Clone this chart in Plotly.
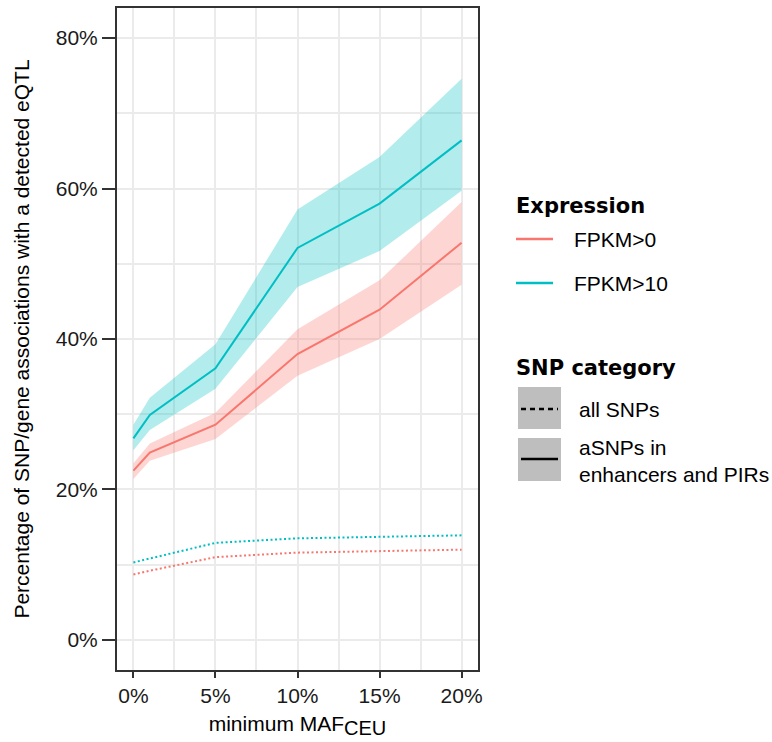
import plotly.graph_objects as go

# ---------------- data ----------------
maf = [0, 1, 5, 10, 15, 20]

fpkm10_asnp = [26.8, 29.9, 36.1, 52.1, 58.0, 66.4]
fpkm10_asnp_lo = [25.2, 27.9, 33.4, 46.9, 51.7, 59.7]
fpkm10_asnp_hi = [28.6, 32.2, 39.3, 57.2, 64.2, 74.6]

fpkm0_asnp = [22.5, 24.9, 28.6, 38.0, 43.9, 52.8]
fpkm0_asnp_lo = [21.4, 23.8, 26.7, 35.1, 40.0, 47.2]
fpkm0_asnp_hi = [23.5, 26.1, 30.2, 41.3, 47.8, 58.2]

fpkm10_all = [10.3, 10.8, 12.9, 13.5, 13.7, 13.9]
fpkm0_all = [8.7, 9.2, 11.0, 11.6, 11.8, 12.0]

x_ticks = [0, 5, 10, 15, 20]
x_ticktext = ["0%", "5%", "10%", "15%", "20%"]
x_minor = [2.5, 7.5, 12.5, 17.5]
y_ticks = [0, 20, 40, 60, 80]
y_ticktext = ["0%", "20%", "40%", "60%", "80%"]
y_minor = [10, 30, 50, 70]

expr_labels = ["FPKM>0", "FPKM>10"]
snp_labels = ["all SNPs", "aSNPs in<br>enhancers and PIRs"]

RED = "#F8766D"
CYAN = "#00BFC4"
RED_FILL = "rgba(248,118,109,0.3)"
CYAN_FILL = "rgba(0,191,196,0.3)"

FONT = "Liberation Sans, Arial, sans-serif"
BOLD_FONT = "DejaVu Sans, sans-serif"
FS = 21

fig = go.Figure()

# ribbons
for lo, hi, fc in [(fpkm10_asnp_lo, fpkm10_asnp_hi, CYAN_FILL),
                   (fpkm0_asnp_lo, fpkm0_asnp_hi, RED_FILL)]:
    fig.add_trace(go.Scatter(x=maf, y=lo, mode="lines", line=dict(width=0),
                             showlegend=False, hoverinfo="skip"))
    fig.add_trace(go.Scatter(x=maf, y=hi, mode="lines", line=dict(width=0),
                             fill="tonexty", fillcolor=fc,
                             showlegend=False, hoverinfo="skip"))

# lines
fig.add_trace(go.Scatter(x=maf, y=fpkm0_asnp, mode="lines",
                         line=dict(color=RED, width=2), showlegend=False))
fig.add_trace(go.Scatter(x=maf, y=fpkm10_asnp, mode="lines",
                         line=dict(color=CYAN, width=2), showlegend=False))
fig.add_trace(go.Scatter(x=maf, y=fpkm0_all, mode="lines",
                         line=dict(color=RED, width=2, dash="2px,2.5px"), showlegend=False))
fig.add_trace(go.Scatter(x=maf, y=fpkm10_all, mode="lines",
                         line=dict(color=CYAN, width=2, dash="2px,2.5px"), showlegend=False))

W, H = 772, 742
L, R, T, B = 117, 294, 8, 72
PW, PH = W - L - R, H - T - B


def px(x):
    return (x - L) / PW


def py(y):
    return (H - B - y) / PH


# ---------------- legend (drawn manually) ----------------
ann = []
shapes = []
ann.append(dict(text="<b>Expression</b>", x=px(514), y=py(206), xref="paper", yref="paper",
                xanchor="left", yanchor="middle", showarrow=False,
                font=dict(family=BOLD_FONT, size=21, color="black")))
for i, (lab, col) in enumerate(zip(expr_labels, [RED, CYAN])):
    yy = 239 + i * 44
    shapes.append(dict(type="line", xref="paper", yref="paper",
                       x0=px(516), x1=px(553), y0=py(yy), y1=py(yy),
                       line=dict(color=col, width=2.5)))
    ann.append(dict(text=lab, x=px(572), y=py(yy), xref="paper", yref="paper",
                    xanchor="left", yanchor="middle", showarrow=False,
                    font=dict(family=FONT, size=FS, color="black")))

ann.append(dict(text="<b>SNP category</b>", x=px(514), y=py(368), xref="paper", yref="paper",
                xanchor="left", yanchor="middle", showarrow=False,
                font=dict(family=BOLD_FONT, size=21, color="black")))
boxes = [(387, 429, 409, "5px,4px"), (438, 481, 459, "solid")]
for (b0, b1, ly, dash), lab in zip(boxes, snp_labels):
    shapes.append(dict(type="rect", xref="paper", yref="paper",
                       x0=px(518), x1=px(561), y0=py(b1), y1=py(b0),
                       fillcolor="#BEBEBE", line=dict(width=0)))
    shapes.append(dict(type="line", xref="paper", yref="paper",
                       x0=px(521), x1=px(558), y0=py(ly), y1=py(ly),
                       line=dict(color="black", width=2.5, dash=dash)))
ann.append(dict(text=snp_labels[0], x=px(577), y=py(409), xref="paper", yref="paper",
                xanchor="left", yanchor="middle", showarrow=False,
                font=dict(family=FONT, size=FS, color="black")))
ann.append(dict(text=snp_labels[1], x=px(577), y=py(460.5), xref="paper", yref="paper",
                xanchor="left", yanchor="middle", align="left", showarrow=False,
                font=dict(family=FONT, size=FS, color="black")))

fig.update_layout(
    width=W, height=H,
    margin=dict(l=L, r=R, t=T, b=B, autoexpand=False),
    paper_bgcolor="white", plot_bgcolor="white",
    annotations=ann, shapes=shapes,
    font=dict(family=FONT, size=FS, color="black"),
)

fig.update_xaxes(
    range=[-1, 21], tickvals=x_ticks, ticktext=x_ticktext,
    showgrid=True, gridcolor="#EBEBEB", gridwidth=2,
    minor=dict(tickvals=x_minor, showgrid=True, gridcolor="#EBEBEB", gridwidth=1.6),
    zeroline=False, showline=True, mirror=True, linecolor="#333333", linewidth=2,
    ticks="outside", ticklen=6, tickwidth=1.6, tickcolor="#333333",
    tickfont=dict(family=FONT, size=FS, color="#1a1a1a"),
    title=dict(text="minimum MAF<sub><span style=\"font-size:20px\">CEU</span></sub>", standoff=10,
               font=dict(family=FONT, size=FS, color="black")),
)
fig.update_yaxes(
    range=[-4, 84], tickvals=y_ticks, ticktext=y_ticktext,
    showgrid=True, gridcolor="#EBEBEB", gridwidth=2,
    minor=dict(tickvals=y_minor, showgrid=True, gridcolor="#EBEBEB", gridwidth=1.6),
    zeroline=False, showline=True, mirror=True, linecolor="#333333", linewidth=2,
    ticks="outside", ticklen=13, tickwidth=1.6, tickcolor="#333333",
    tickfont=dict(family=FONT, size=FS, color="#1a1a1a"),
    title=dict(text="Percentage of SNP/gene associations with a detected eQTL", standoff=20,
               font=dict(family=FONT, size=FS, color="black")),
)

fig.write_html("out.html")
